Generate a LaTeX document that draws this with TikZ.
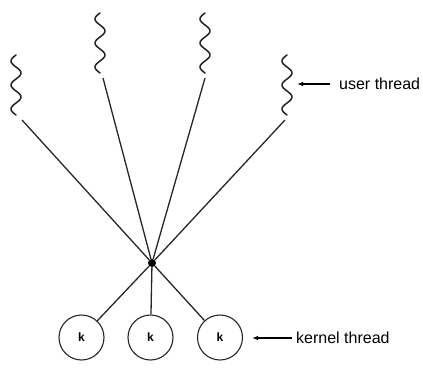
\documentclass[tikz,border=0pt]{standalone}
\usepackage{fontspec}
\setmainfont{Liberation Sans}
\usetikzlibrary{arrows.meta}
\begin{document}
\begin{tikzpicture}[x=1pt,y=-1pt,
  wire/.style={line width=1.3pt,draw=black!85},
  squiggle/.pic={\draw[wire,line width=1.5pt,line cap=round] plot[domain=0:60,samples=90,smooth]
      ({5*sin(\x*15+180)},\x);},
  kthread/.style={circle,draw=black!85,line width=1.1pt,minimum size=45pt,inner sep=0pt,
      font=\fontsize{12}{14}\selectfont\bfseries},
  hub/.style={circle,fill=black,inner sep=0pt,minimum size=8pt},
  label/.style={font=\fontsize{16}{19}\selectfont,anchor=west,inner sep=0pt},
  pointer/.style={line width=1.2pt,-{Latex[length=6pt,width=4.5pt]}}]
\useasboundingbox (0,0) rectangle (423,367);

% user threads
\pic at (16,55) {squiggle};
\pic at (100,13) {squiggle};
\pic at (205,13) {squiggle};
\pic at (287,55) {squiggle};
\coordinate (u1) at (22,120);
\coordinate (u2) at (103,78);
\coordinate (u3) at (205,78);
\coordinate (u4) at (285,120);

% many-to-many multiplexing point
\node[hub] (m) at (152,263) {};

% kernel threads
\node[kthread] (k1) at (81.5,337.5) {k};
\node[kthread] (k2) at (150.5,337.5) {k};
\node[kthread] (k3) at (220,337.5) {k};

\foreach \u in {u1,u2,u3,u4} \draw[wire] (\u) -- (m);
\foreach \k in {k1,k2,k3} \draw[wire] (m) -- (\k);

% labels with pointers
\node[label] (ul) at (339,84) {user thread};
\node[label] (kl) at (296,338) {kernel thread};
\coordinate (ua) at (330,84);
\coordinate (ut) at (297,84);
\coordinate (ka) at (292,338);
\coordinate (kt) at (252,338);
\draw[pointer] (ua) -- (ut);
\draw[pointer] (ka) -- (kt);
\end{tikzpicture}
\end{document}
